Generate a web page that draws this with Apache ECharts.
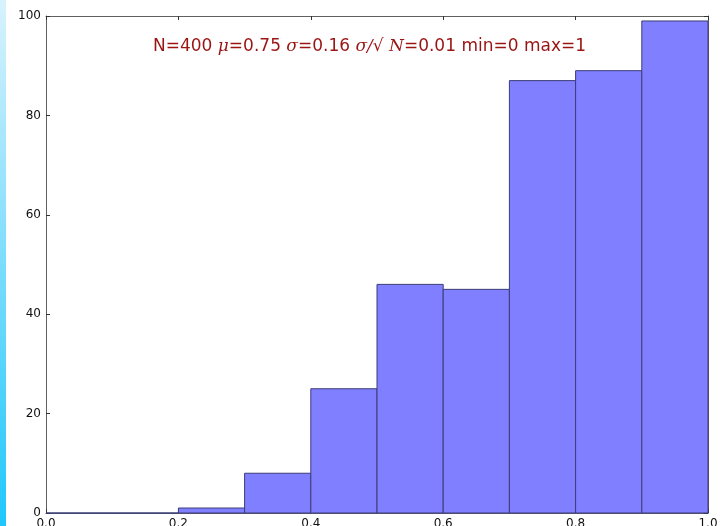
<!DOCTYPE html>
<html>
<head>
<meta charset="utf-8">
<script src="https://cdn.jsdelivr.net/npm/echarts@6/dist/echarts.min.js"></script>
<style>
  html, body { margin: 0; padding: 0; background: #ffffff; }
  #chart { width: 720px; height: 526px; }
</style>
</head>
<body>
<div id="chart"></div>
<script>
// Histogram bin edges and counts
var binEdges = [0.0, 0.1, 0.2, 0.3, 0.4, 0.5, 0.6, 0.7, 0.8, 0.9, 1.0];
var counts = [0, 0, 1, 8, 25, 46, 45, 87, 89, 99];
var xTicks = [0.0, 0.2, 0.4, 0.6, 0.8, 1.0];
var yTicks = [0, 20, 40, 60, 80, 100];

var bins = counts.map(function (c, i) {
  return [binEdges[i], binEdges[i + 1], c];
});

var chart = echarts.init(document.getElementById('chart'), null, { renderer: 'canvas' });

var labelFont = 'DejaVu Sans';
var axisColor = '#606060';

function xAxisCfg(pos, showLabels) {
  return {
    type: 'value', position: pos,
    min: xTicks[0], max: xTicks[xTicks.length - 1], interval: xTicks[1] - xTicks[0],
    axisLine: { show: true, onZero: false, lineStyle: { color: axisColor, width: 1 } },
    axisTick: { show: true, inside: true, length: 4, lineStyle: { color: '#333' } },
    axisLabel: {
      show: showLabels, margin: 5, fontFamily: labelFont, fontSize: 12, color: '#111',
      formatter: function (v) { return v.toFixed(1); }
    },
    splitLine: { show: false }
  };
}
function yAxisCfg(pos, showLabels) {
  return {
    type: 'value', position: pos,
    min: yTicks[0], max: yTicks[yTicks.length - 1], interval: yTicks[1] - yTicks[0],
    axisLine: { show: true, onZero: false, lineStyle: { color: axisColor, width: 1 } },
    axisTick: { show: true, inside: true, length: 4, lineStyle: { color: '#333' } },
    axisLabel: { show: showLabels, margin: 5, fontFamily: labelFont, fontSize: 12, color: '#111' },
    splitLine: { show: false }
  };
}

var titleColor = '#9a1414';
var option = {
  animation: false,
  backgroundColor: '#ffffff',
  grid: { left: 46, right: 12, top: 16, bottom: 13, containLabel: false, outerBoundsMode: 'none' },
  xAxis: [xAxisCfg('bottom', true), xAxisCfg('top', false)],
  yAxis: [yAxisCfg('left', true), yAxisCfg('right', false)],
  title: {
    left: 153, top: 38, padding: 0,
    text: '{n|N=400 }{m|μ}{n|=0.75 }{m|σ}{n|=0.16 }{m|σ/√ N}{n|=0.01 min=0 max=1}',
    textStyle: {
      fontWeight: 'normal',
      rich: {
        n: { fontFamily: labelFont, fontWeight: 'normal', fontSize: 17, color: titleColor },
        m: { fontFamily: 'DejaVu Serif', fontStyle: 'italic', fontWeight: 'normal', fontSize: 17, color: titleColor }
      }
    }
  },
  graphic: [{
    type: 'rect', left: 0, top: 0, z: 10,
    shape: { x: 0, y: 0, width: 6, height: 526 },
    style: {
      fill: {
        type: 'linear', x: 0, y: 0, x2: 0, y2: 1,
        colorStops: [{ offset: 0, color: '#d8f2fd' }, { offset: 1, color: '#1fc7fc' }]
      }
    }
  }],
  series: [{
    type: 'custom',
    xAxisIndex: 0, yAxisIndex: 0,
    data: bins,
    encode: { x: [0, 1], y: 2 },
    renderItem: function (params, api) {
      var p0 = api.coord([api.value(0), api.value(2)]);
      var p1 = api.coord([api.value(1), 0]);
      return {
        type: 'rect',
        shape: { x: p0[0], y: p0[1], width: p1[0] - p0[0], height: p1[1] - p0[1] },
        style: { fill: '#7f7fff', stroke: '#3c3c78', lineWidth: 1 }
      };
    }
  }]
};

chart.setOption(option);
</script>
</body>
</html>
